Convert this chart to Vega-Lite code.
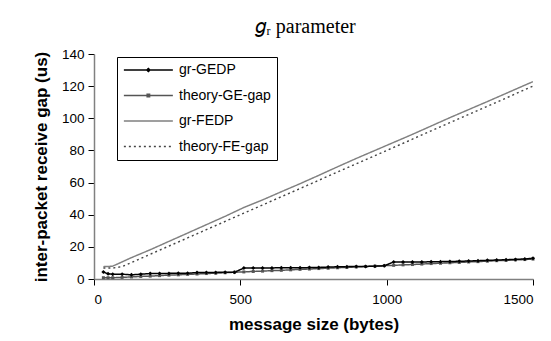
{
  "$schema": "https://vega.github.io/schema/vega-lite/v6.json",
  "width": 439,
  "height": 225,
  "autosize": {"type": "none"},
  "padding": {"left": 94, "top": 54, "right": 18, "bottom": 62},
  "background": "white",
  "title": {
    "text": "𝑔ᵣ parameter",
    "font": "Liberation Serif",
    "fontSize": 20,
    "fontWeight": "normal",
    "color": "black",
    "frame": "group",
    "anchor": "middle",
    "baseline": "alphabetic",
    "offset": -6,
    "dx": -8
  },
  "data": {
    "values": [
      {"series":"gr-FEDP","size":32,"gap":7.7},{"series":"gr-FEDP","size":48,"gap":7.8},{"series":"gr-FEDP","size":64,"gap":8.0},{"series":"gr-FEDP","size":128,"gap":13.3},{"series":"gr-FEDP","size":192,"gap":18.2},{"series":"gr-FEDP","size":256,"gap":23.4},{"series":"gr-FEDP","size":320,"gap":28.6},{"series":"gr-FEDP","size":384,"gap":33.8},{"series":"gr-FEDP","size":448,"gap":39.0},{"series":"gr-FEDP","size":512,"gap":44.5},{"series":"gr-FEDP","size":576,"gap":49.2},{"series":"gr-FEDP","size":640,"gap":54.3},{"series":"gr-FEDP","size":704,"gap":59.3},{"series":"gr-FEDP","size":768,"gap":64.5},{"series":"gr-FEDP","size":832,"gap":69.8},{"series":"gr-FEDP","size":896,"gap":75.0},{"series":"gr-FEDP","size":960,"gap":80.0},{"series":"gr-FEDP","size":1024,"gap":85.0},{"series":"gr-FEDP","size":1088,"gap":90.0},{"series":"gr-FEDP","size":1152,"gap":95.2},{"series":"gr-FEDP","size":1216,"gap":100.4},{"series":"gr-FEDP","size":1280,"gap":105.4},{"series":"gr-FEDP","size":1344,"gap":110.4},{"series":"gr-FEDP","size":1408,"gap":115.5},{"series":"gr-FEDP","size":1472,"gap":120.6},{"series":"gr-FEDP","size":1500,"gap":122.8},
      {"series":"theory-FE-gap","size":32,"gap":6.8},{"series":"theory-FE-gap","size":48,"gap":6.8},{"series":"theory-FE-gap","size":64,"gap":6.8},{"series":"theory-FE-gap","size":96,"gap":7.7},{"series":"theory-FE-gap","size":128,"gap":10.2},{"series":"theory-FE-gap","size":192,"gap":15.4},{"series":"theory-FE-gap","size":256,"gap":20.5},{"series":"theory-FE-gap","size":320,"gap":25.6},{"series":"theory-FE-gap","size":384,"gap":30.7},{"series":"theory-FE-gap","size":448,"gap":35.8},{"series":"theory-FE-gap","size":512,"gap":41.0},{"series":"theory-FE-gap","size":576,"gap":46.1},{"series":"theory-FE-gap","size":640,"gap":51.2},{"series":"theory-FE-gap","size":704,"gap":56.3},{"series":"theory-FE-gap","size":768,"gap":61.4},{"series":"theory-FE-gap","size":832,"gap":66.6},{"series":"theory-FE-gap","size":896,"gap":71.7},{"series":"theory-FE-gap","size":960,"gap":76.8},{"series":"theory-FE-gap","size":1024,"gap":81.9},{"series":"theory-FE-gap","size":1088,"gap":87.0},{"series":"theory-FE-gap","size":1152,"gap":92.2},{"series":"theory-FE-gap","size":1216,"gap":97.3},{"series":"theory-FE-gap","size":1280,"gap":102.4},{"series":"theory-FE-gap","size":1344,"gap":107.5},{"series":"theory-FE-gap","size":1408,"gap":112.6},{"series":"theory-FE-gap","size":1472,"gap":117.8},{"series":"theory-FE-gap","size":1500,"gap":120.0},
      {"series":"theory-GE-gap","size":32,"gap":0.8},{"series":"theory-GE-gap","size":48,"gap":0.8},{"series":"theory-GE-gap","size":64,"gap":0.8},{"series":"theory-GE-gap","size":96,"gap":1.0},{"series":"theory-GE-gap","size":128,"gap":1.3},{"series":"theory-GE-gap","size":160,"gap":1.6},{"series":"theory-GE-gap","size":192,"gap":1.8},{"series":"theory-GE-gap","size":224,"gap":2.1},{"series":"theory-GE-gap","size":256,"gap":2.4},{"series":"theory-GE-gap","size":288,"gap":2.6},{"series":"theory-GE-gap","size":320,"gap":2.9},{"series":"theory-GE-gap","size":352,"gap":3.1},{"series":"theory-GE-gap","size":384,"gap":3.4},{"series":"theory-GE-gap","size":416,"gap":3.6},{"series":"theory-GE-gap","size":448,"gap":3.9},{"series":"theory-GE-gap","size":480,"gap":4.2},{"series":"theory-GE-gap","size":512,"gap":4.4},{"series":"theory-GE-gap","size":544,"gap":4.7},{"series":"theory-GE-gap","size":576,"gap":4.9},{"series":"theory-GE-gap","size":608,"gap":5.2},{"series":"theory-GE-gap","size":640,"gap":5.4},{"series":"theory-GE-gap","size":672,"gap":5.7},{"series":"theory-GE-gap","size":704,"gap":6.0},{"series":"theory-GE-gap","size":736,"gap":6.2},{"series":"theory-GE-gap","size":768,"gap":6.5},{"series":"theory-GE-gap","size":800,"gap":6.7},{"series":"theory-GE-gap","size":832,"gap":7.0},{"series":"theory-GE-gap","size":864,"gap":7.2},{"series":"theory-GE-gap","size":896,"gap":7.5},{"series":"theory-GE-gap","size":928,"gap":7.8},{"series":"theory-GE-gap","size":960,"gap":8.0},{"series":"theory-GE-gap","size":992,"gap":8.3},{"series":"theory-GE-gap","size":1024,"gap":8.5},{"series":"theory-GE-gap","size":1056,"gap":8.8},{"series":"theory-GE-gap","size":1088,"gap":9.0},{"series":"theory-GE-gap","size":1120,"gap":9.3},{"series":"theory-GE-gap","size":1152,"gap":9.6},{"series":"theory-GE-gap","size":1184,"gap":9.8},{"series":"theory-GE-gap","size":1216,"gap":10.1},{"series":"theory-GE-gap","size":1248,"gap":10.3},{"series":"theory-GE-gap","size":1280,"gap":10.6},{"series":"theory-GE-gap","size":1312,"gap":10.8},{"series":"theory-GE-gap","size":1344,"gap":11.1},{"series":"theory-GE-gap","size":1376,"gap":11.4},{"series":"theory-GE-gap","size":1408,"gap":11.6},{"series":"theory-GE-gap","size":1440,"gap":11.9},{"series":"theory-GE-gap","size":1472,"gap":12.1},{"series":"theory-GE-gap","size":1500,"gap":12.4},
      {"series":"gr-GEDP","size":32,"gap":4.4},{"series":"gr-GEDP","size":48,"gap":3.2},{"series":"gr-GEDP","size":64,"gap":3.0},{"series":"gr-GEDP","size":96,"gap":3.0},{"series":"gr-GEDP","size":128,"gap":2.6},{"series":"gr-GEDP","size":160,"gap":3.0},{"series":"gr-GEDP","size":192,"gap":3.4},{"series":"gr-GEDP","size":224,"gap":3.5},{"series":"gr-GEDP","size":256,"gap":3.5},{"series":"gr-GEDP","size":288,"gap":3.6},{"series":"gr-GEDP","size":320,"gap":3.6},{"series":"gr-GEDP","size":352,"gap":4.0},{"series":"gr-GEDP","size":384,"gap":4.1},{"series":"gr-GEDP","size":416,"gap":4.1},{"series":"gr-GEDP","size":448,"gap":4.2},{"series":"gr-GEDP","size":480,"gap":4.2},{"series":"gr-GEDP","size":512,"gap":6.8},{"series":"gr-GEDP","size":544,"gap":6.9},{"series":"gr-GEDP","size":576,"gap":6.9},{"series":"gr-GEDP","size":608,"gap":6.9},{"series":"gr-GEDP","size":640,"gap":7.0},{"series":"gr-GEDP","size":672,"gap":7.0},{"series":"gr-GEDP","size":704,"gap":7.0},{"series":"gr-GEDP","size":736,"gap":7.1},{"series":"gr-GEDP","size":768,"gap":7.2},{"series":"gr-GEDP","size":800,"gap":7.4},{"series":"gr-GEDP","size":832,"gap":7.6},{"series":"gr-GEDP","size":864,"gap":7.7},{"series":"gr-GEDP","size":896,"gap":7.8},{"series":"gr-GEDP","size":928,"gap":7.8},{"series":"gr-GEDP","size":960,"gap":8.0},{"series":"gr-GEDP","size":992,"gap":8.2},{"series":"gr-GEDP","size":1024,"gap":10.6},{"series":"gr-GEDP","size":1056,"gap":10.6},{"series":"gr-GEDP","size":1088,"gap":10.6},{"series":"gr-GEDP","size":1120,"gap":10.6},{"series":"gr-GEDP","size":1152,"gap":10.7},{"series":"gr-GEDP","size":1184,"gap":10.8},{"series":"gr-GEDP","size":1216,"gap":10.9},{"series":"gr-GEDP","size":1248,"gap":11.0},{"series":"gr-GEDP","size":1280,"gap":11.2},{"series":"gr-GEDP","size":1312,"gap":11.4},{"series":"gr-GEDP","size":1344,"gap":11.6},{"series":"gr-GEDP","size":1376,"gap":11.8},{"series":"gr-GEDP","size":1408,"gap":12.0},{"series":"gr-GEDP","size":1440,"gap":12.2},{"series":"gr-GEDP","size":1472,"gap":12.5},{"series":"gr-GEDP","size":1500,"gap":12.9}
    ]
  },
  "encoding": {
    "x": {
      "field": "size", "type": "quantitative",
      "scale": {"domain": [0, 1500], "nice": false, "zero": true},
      "axis": {"values": [0, 500, 1000, 1500], "format": "d", "title": "message size (bytes)", "titlePadding": 11, "labelPadding": 7}
    },
    "y": {
      "field": "gap", "type": "quantitative",
      "scale": {"domain": [0, 140], "nice": false},
      "axis": {"values": [0, 20, 40, 60, 80, 100, 120, 140], "title": "inter-packet receive gap (us)", "titlePadding": 11, "labelPadding": 4}
    }
  },
  "layer": [
    {
      "mark": {"type": "line", "clip": true},
      "encoding": {
        "color": {
          "field": "series", "type": "nominal",
          "scale": {"domain": ["gr-GEDP", "theory-GE-gap", "gr-FEDP", "theory-FE-gap"], "range": ["#000000", "#555555", "#808080", "#444444"]},
          "legend": {
            "title": null,
            "orient": "none",
            "legendX": 23,
            "legendY": 3,
            "strokeColor": "black",
            "fillColor": "white",
            "padding": 6,
            "rowPadding": 11.5,
            "symbolType": "stroke",
            "symbolSize": 150,
            "symbolStrokeWidth": 1.3,
            "labelOffset": 42,
            "labelFontSize": 14,
            "labelFont": "Liberation Sans",
            "labelColor": "black",
            "encode": {
              "symbols": {
                "update": {
                  "shape": {"signal": "datum.value === 'gr-GEDP' ? 'M-1,0H7M2.75,0L3,-0.25L3.25,0L3,0.25Z' : (datum.value === 'theory-GE-gap' ? 'M-1,0H7M2.8,-0.2H3.2V0.2H2.8Z' : 'M-1,0H7')"}
                }
              }
            }
          }
        },
        "strokeDash": {
          "field": "series", "type": "nominal",
          "scale": {"domain": ["gr-GEDP", "theory-GE-gap", "gr-FEDP", "theory-FE-gap"], "range": [[1, 0], [1, 0], [1, 0], [2, 3]]},
          "legend": {
            "title": null,
            "orient": "none",
            "legendX": 23,
            "legendY": 3,
            "strokeColor": "black",
            "fillColor": "white",
            "padding": 6,
            "rowPadding": 11.5,
            "symbolType": "stroke",
            "symbolSize": 150,
            "symbolStrokeWidth": 1.3,
            "labelOffset": 42,
            "labelFontSize": 14,
            "labelFont": "Liberation Sans",
            "labelColor": "black",
            "encode": {
              "symbols": {
                "update": {
                  "shape": {"signal": "datum.value === 'gr-GEDP' ? 'M-1,0H7M2.75,0L3,-0.25L3.25,0L3,0.25Z' : (datum.value === 'theory-GE-gap' ? 'M-1,0H7M2.8,-0.2H3.2V0.2H2.8Z' : 'M-1,0H7')"}
                }
              }
            }
          }
        },
        "strokeWidth": {
          "field": "series", "type": "nominal",
          "scale": {"domain": ["gr-GEDP", "theory-GE-gap", "gr-FEDP", "theory-FE-gap"], "range": [1.5, 1.4, 1, 1.2]},
          "legend": null
        }
      }
    },
    {
      "transform": [{"filter": "datum.series === 'theory-GE-gap'"}],
      "mark": {"type": "square", "size": 9, "color": "#555555", "opacity": 1}
    },
    {
      "transform": [{"filter": "datum.series === 'gr-GEDP'"}],
      "mark": {"type": "point", "shape": "diamond", "filled": true, "size": 16, "color": "#000000", "opacity": 1}
    }
  ],
  "config": {
    "font": "Liberation Sans",
    "view": {"stroke": null},
    "axis": {
      "grid": false,
      "domainColor": "#808080",
      "domainWidth": 1.5,
      "tickColor": "#000000",
      "tickSize": 6,
      "labelFont": "Liberation Sans",
      "labelFontSize": 13.5,
      "labelColor": "black",
      "titleFont": "Liberation Sans",
      "titleFontSize": 17,
      "titleFontWeight": "bold",
      "titleColor": "black"
    }
  }
}
